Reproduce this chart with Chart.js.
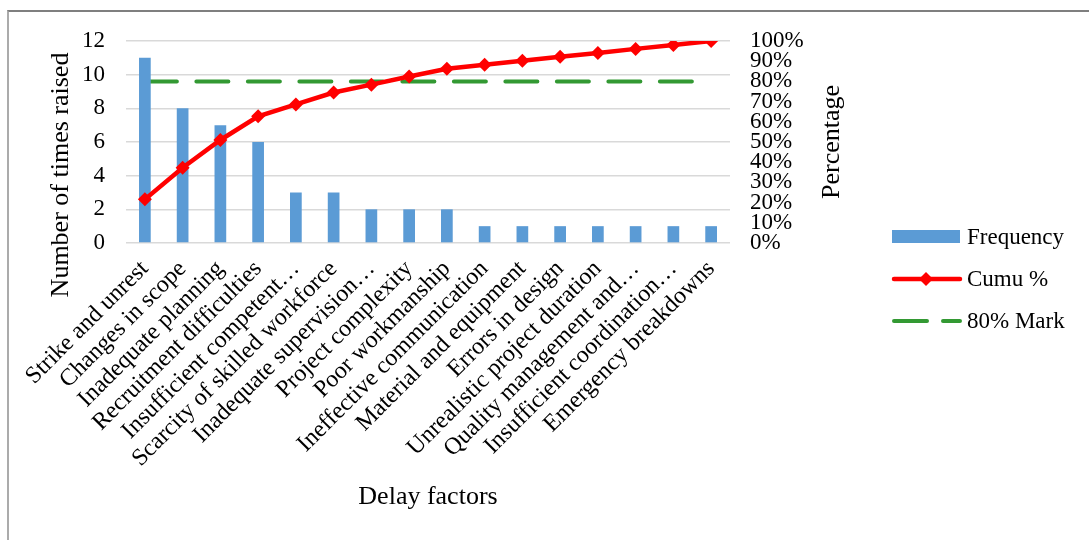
<!DOCTYPE html>
<html>
<head>
<meta charset="utf-8">
<title>Delay factors – Pareto chart</title>
<script src="https://cdn.jsdelivr.net/npm/chart.js@4.4.1/dist/chart.umd.min.js"></script>
<style>
  html, body { margin: 0; padding: 0; background: #ffffff; }
  #wrap { position: relative; width: 1089px; height: 540px; overflow: hidden; }
  #frame {
    position: absolute; left: 7px; top: 10px; width: 2000px; height: 2000px;
    border-top: 2px solid #7f7f7f; border-left: 2px solid #ababab;
  }
  canvas { position: absolute; left: 0; top: 0; }
</style>
</head>
<body>
<div id="wrap">
  <div id="frame"></div>
  <canvas id="pareto" width="1089" height="540"></canvas>
</div>
<script>
// Delay factors, ordered by how often each was raised
const categories = [
  'Strike and unrest',
  'Changes in scope',
  'Inadequate planning',
  'Recruitment difficulties',
  'Insufficient competent\u2026',
  'Scarcity of skilled workforce',
  'Inadequate supervision\u2026',
  'Project complexity',
  'Poor workmanship',
  'Ineffective communication',
  'Material and equipment',
  'Errors in design',
  'Unrealistic project duration',
  'Quality management and\u2026',
  'Insufficient coordination\u2026',
  'Emergency breakdowns'
];
const frequency = [11, 8, 7, 6, 3, 3, 2, 2, 2, 1, 1, 1, 1, 1, 1, 1];
const cumulativePct = [21.6, 37.3, 51.0, 62.7, 68.6, 74.5, 78.4, 82.4, 86.3, 88.2, 90.2, 92.2, 94.1, 96.1, 98.0, 100];
const markPct = [80, 80, 80, 80, 80, 80, 80, 80, 80, 80, 80, 80, 80, 80, 80, 80];
const countTicks = [0, 2, 4, 6, 8, 10, 12];
const pctTicks = [0, 10, 20, 30, 40, 50, 60, 70, 80, 90, 100];

const seriesNames = ['Frequency', 'Cumu %', '80% Mark'];
const axisTitles = { x: 'Delay factors', y: 'Number of times raised', y2: 'Percentage' };

const SERIF = '"Liberation Serif", "Times New Roman", serif';
const BAR_BLUE = '#5b9bd5';
const LINE_RED = '#ff0000';
const MARK_GREEN = '#339933';
const GRID = '#d9d9d9';

// Vertical axis titles, both reading bottom-to-top
const sideTitles = {
  id: 'sideTitles',
  afterDraw(chart) {
    const ctx = chart.ctx;
    const items = [
      { text: axisTitles.y, x: 61, y: 175 },
      { text: axisTitles.y2, x: 832, y: 142 }
    ];
    items.forEach(t => {
      ctx.save();
      ctx.font = '26px ' + SERIF;
      ctx.fillStyle = '#000';
      ctx.textAlign = 'center';
      ctx.textBaseline = 'middle';
      ctx.translate(t.x, t.y);
      ctx.rotate(-Math.PI / 2);
      ctx.fillText(t.text, 0, 0);
      ctx.restore();
    });
  }
};

// Legend on the right: a box for the bars, line samples for the two lines
const sideLegend = {
  id: 'sideLegend',
  afterDraw(chart) {
    const ctx = chart.ctx;
    const x0 = 892, sampleW = 70, textX = 967;
    const rows = [237, 279, 321];
    chart.data.datasets.forEach((ds, i) => {
      const y = rows[i];
      ctx.save();
      if (ds.type === 'bar') {
        ctx.fillStyle = ds.backgroundColor;
        ctx.fillRect(x0, y - 7, sampleW - 2, 13);
      } else {
        ctx.strokeStyle = ds.borderColor;
        ctx.lineWidth = ds.borderWidth;
        ctx.lineCap = 'round';
        ctx.setLineDash(ds.borderDash ? [33, 16] : []);
        ctx.beginPath();
        ctx.moveTo(x0 + 2, y);
        ctx.lineTo(x0 + sampleW - 2, y);
        ctx.stroke();
        if (ds.pointRadius > 0) {
          ctx.setLineDash([]);
          ctx.fillStyle = ds.pointBackgroundColor;
          const cx = x0 + sampleW / 2 - 1, r = ds.pointRadius;
          ctx.beginPath();
          ctx.moveTo(cx - r, y); ctx.lineTo(cx, y - r);
          ctx.lineTo(cx + r, y); ctx.lineTo(cx, y + r);
          ctx.closePath();
          ctx.fill();
        }
      }
      ctx.fillStyle = '#000';
      ctx.font = '23px ' + SERIF;
      ctx.textAlign = 'left';
      ctx.textBaseline = 'middle';
      ctx.fillText(ds.label, textX, y + 1);
      ctx.restore();
    });
  }
};

new Chart(document.getElementById('pareto'), {
  data: {
    labels: categories,
    datasets: [
      {
        type: 'bar',
        label: seriesNames[0],
        data: frequency,
        yAxisID: 'y',
        backgroundColor: BAR_BLUE,
        borderWidth: 0,
        categoryPercentage: 1,
        barPercentage: 0.31,
        order: 1
      },
      {
        type: 'line',
        label: seriesNames[1],
        data: cumulativePct,
        yAxisID: 'y2',
        borderColor: LINE_RED,
        backgroundColor: LINE_RED,
        pointBackgroundColor: LINE_RED,
        pointBorderColor: LINE_RED,
        borderWidth: 4.5,
        pointStyle: 'rectRot',
        pointRadius: 7,
        pointBorderWidth: 0,
        tension: 0,
        order: 0
      },
      {
        type: 'line',
        label: seriesNames[2],
        data: markPct,
        yAxisID: 'y2',
        borderColor: MARK_GREEN,
        backgroundColor: MARK_GREEN,
        borderWidth: 4,
        borderDash: [32, 19.5],
        borderCapStyle: 'round',
        pointRadius: 0,
        tension: 0,
        order: 2
      }
    ]
  },
  options: {
    responsive: false,
    animation: false,
    events: [],
    layout: { padding: { left: 44, right: 241, top: 41, bottom: 27 } },
    plugins: {
      legend: { display: false },
      tooltip: { enabled: false }
    },
    scales: {
      x: {
        grid: { display: false, drawTicks: false },
        border: { display: false },
        ticks: {
          autoSkip: false,
          minRotation: 45,
          maxRotation: 45,
          padding: 12,
          color: '#000',
          font: { family: SERIF, size: 24 }
        },
        title: {
          display: true,
          text: axisTitles.x,
          color: '#000',
          padding: 0,
          font: { family: SERIF, size: 26 }
        },
        afterFit(scale) { scale.height = 270; }
      },
      y: {
        position: 'left',
        min: countTicks[0],
        max: countTicks[countTicks.length - 1],
        afterBuildTicks(scale) { scale.ticks = countTicks.map(v => ({ value: v })); },
        grid: { color: GRID, lineWidth: 1.4, drawTicks: false },
        border: { display: false },
        ticks: {
          padding: 21,
          color: '#000',
          font: { family: SERIF, size: 23 }
        },
        afterFit(scale) { scale.width = 82; }
      },
      y2: {
        position: 'right',
        min: pctTicks[0],
        max: pctTicks[pctTicks.length - 1],
        afterBuildTicks(scale) { scale.ticks = pctTicks.map(v => ({ value: v })); },
        grid: { display: false, drawTicks: false },
        border: { display: false },
        ticks: {
          autoSkip: false,
          padding: 20,
          color: '#000',
          font: { family: SERIF, size: 23 },
          callback: v => v + '%'
        },
        afterFit(scale) { scale.width = 118; }
      }
    }
  },
  plugins: [sideTitles, sideLegend]
});
</script>
</body>
</html>
